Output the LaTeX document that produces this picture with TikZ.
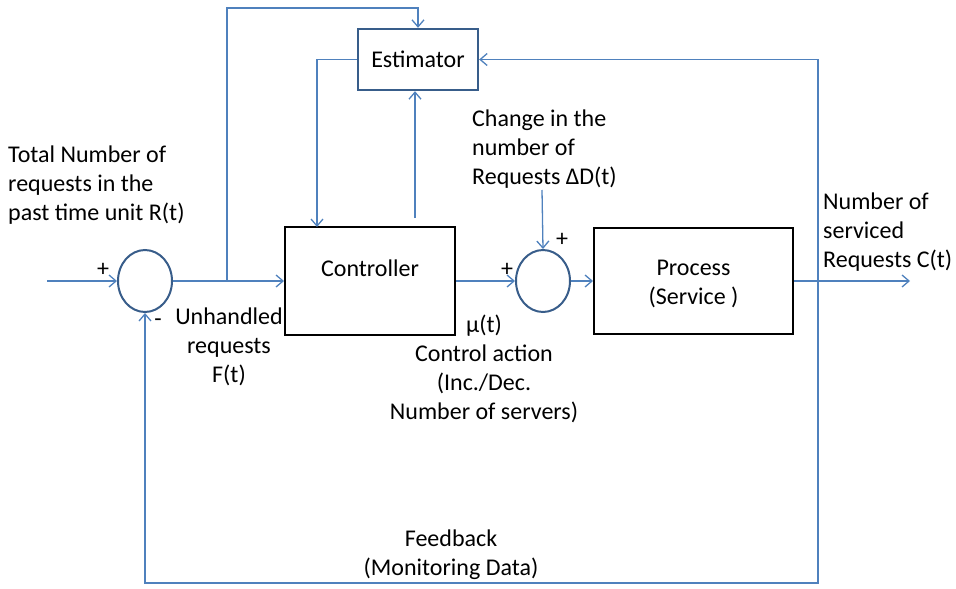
\documentclass[tikz,border=0pt]{standalone}
\usepackage{fontspec}
\setmainfont{Carlito}
\usetikzlibrary{arrows.meta,shapes.geometric}
\definecolor{ln}{HTML}{4F81BD}
\definecolor{dk}{HTML}{385D8A}
\begin{document}
\begin{tikzpicture}[x=1pt,y=-1pt,
 conn/.style={draw=ln,line width=1.3pt},
 arr/.style={conn,-{Straight Barb[length=7pt,width=12pt,line width=1.3pt]}},
 blk/.style={draw=black,line width=2pt,inner sep=0,font=\fontsize{24}{30}\selectfont,align=center},
 sumj/.style={ellipse,draw=dk,line width=2pt,minimum width=54pt,minimum height=62pt,inner sep=0},
 lbl/.style={font=\fontsize{24}{29}\selectfont,inner sep=0},
]
\useasboundingbox (0,0) rectangle (956,589);
% blocks
\node[blk,draw=dk,line width=2.4pt,minimum width=120pt,minimum height=61pt] (est) at (418,59.5) {Estimator};
\node[blk,minimum width=170pt,minimum height=108pt,label={[lbl,anchor=center,yshift=13pt]center:Controller}] (ctrl) at (370,281) {};
\node[blk,minimum width=199pt,minimum height=106pt,label={[lbl,align=center,anchor=center,yshift=-3pt]center:Process\\(Service )}] (proc) at (693.5,280.5) {};
\node[sumj] (s1) at (145,281) {};
\node[sumj] (s2) at (543,281) {};
% coordinates
\coordinate (in) at (47,281);
\coordinate (br) at (227,281);
\coordinate (tl) at (227,8);
\coordinate (c1) at (317,227);
\coordinate (c2) at (415,218);
\coordinate (fb) at (818,281);
\coordinate (fbb) at (818,583);
\coordinate (out) at (910,281);
\coordinate (dd) at (542,190);
% connectors
\draw[arr] (in) -- (s1.west);
\draw[arr] (s1.east) -- (s1.east -| ctrl.west);
\draw[arr] (br) -- (tl) -| (est.north);
\draw[arr] (est.west) -| (c1);
\draw[arr] (c2) -- (c2 |- est.south);
\draw[arr] (ctrl.east |- s2.west) -- (s2.west);
\draw[arr] (s2.east) -- (s2.east -| proc.west);
\draw[arr] (dd) -- (s2.north);
\draw[arr] (proc.east |- out) -- (out);
\draw[arr] (fb) |- (est.east);
\draw[arr] (fb) -- (fbb) -| (s1.south);
% labels
\node[lbl,anchor=north west,align=left] (lr) at (8,146) {Total Number of\\requests in the\\past time unit R(t)};
\node[lbl,anchor=north west,align=left] (ld) at (472,110) {Change in the\\number of\\Requests ΔD(t)};
\node[lbl,anchor=north west,align=left] (lc) at (823,193) {Number of\\serviced\\Requests C(t)};
\node[lbl,anchor=north,align=center] (lf) at (229,308) {Unhandled\\requests\\F(t)};
\node[lbl,anchor=north,align=center] (lu) at (484,315) {μ(t)\\Control action\\(Inc./Dec.\\Number of servers)};
\node[lbl,anchor=north,align=center] (lm) at (451,530) {Feedback\\(Monitoring Data)};
\node[lbl] (p1) at (103,270) {+};
\node[lbl] (m1) at (158,323) {-};
\node[lbl] (p2) at (507,270) {+};
\node[lbl] (p3) at (562,240) {+};
\end{tikzpicture}
\end{document}
